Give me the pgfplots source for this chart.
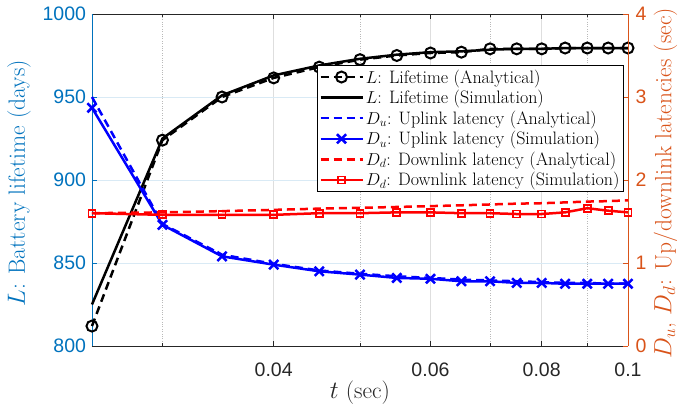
\documentclass[border=0pt]{standalone}
\usepackage{fontspec}
\usepackage{pgfplots}
\usepackage{pgfplotstable}
\pgfplotsset{compat=1.18}
\newfontfamily\tickfont{Liberation Sans}
\definecolor{mblue}{rgb}{0,0.447,0.741}
\definecolor{morange}{rgb}{0.85,0.325,0.098}
\definecolor{axgray}{rgb}{0.15,0.15,0.15}
\definecolor{gridgray}{rgb}{0.87,0.87,0.87}
\definecolor{gridblue}{rgb}{0.85,0.917,0.961}
\tikzset{dsh/.style={dash pattern=on 8pt off 5pt}}

\pgfplotstableread{
x      La     Ls     Dua   Dus   Dda    Dds
0.025  812    825    3.00  2.87  1.60   1.60
0.030  924    925    1.47  1.46  1.61   1.58
0.035  950    951    1.10  1.08  1.625  1.58
0.040  961.5  963    0.99  0.98  1.64   1.58
0.045  968    969    0.91  0.90  1.655  1.60
0.050  972.5  973    0.87  0.86  1.665  1.60
0.055  975    975.5  0.84  0.82  1.675  1.61
0.060  976.5  977    0.82  0.81  1.685  1.61
0.065  977    977.5  0.80  0.78  1.695  1.60
0.070  979    978.5  0.79  0.78  1.705  1.60
0.075  979    979    0.78  0.76  1.715  1.59
0.080  979    979    0.77  0.76  1.72   1.59
0.085  979.5  979.5  0.76  0.75  1.73   1.61
0.090  979.5  979.5  0.76  0.75  1.74   1.66
0.095  979.5  979.5  0.75  0.75  1.745  1.63
0.100  979.5  979.5  0.75  0.75  1.755  1.61
}\datatable

\begin{document}
\begin{tikzpicture}
\begin{axis}[
  scale only axis, width=536pt, height=332pt,
  xmode=log, xmin=0.025, xmax=0.1,
  clip=false,
  tick align=inside,
  major tick length=5pt, minor tick length=3pt,
  /pgf/number format/assume math mode=true,
  /pgf/number format/1000 sep={},
  tick label style={font=\tickfont\fontsize{19.5}{22}\selectfont},
  axis x line*=box, axis y line*=left,
  xtick pos=both,
  x axis line style={draw=axgray, line width=0.8pt},
  y axis line style={draw=mblue, line width=0.8pt},
  xtick={0.04,0.06,0.08,0.1}, xticklabels={0.04,0.06,0.08,0.1},
  minor xtick={0.03,0.05,0.07,0.09},
  major x tick style={draw=axgray, line width=0.8pt},
  minor x tick style={draw=axgray, line width=0.6pt},
  xticklabel style={anchor=base, yshift=-31pt, text=axgray},
  ymin=800, ymax=1000, ytick={800,850,900,950,1000},
  major y tick style={draw=mblue, line width=0.8pt},
  yticklabel style={text=mblue, xshift=-2.5pt},
  xmajorgrids, xminorgrids, ymajorgrids,
  major x grid style={solid, draw=gridgray, line width=0.9pt},
  minor x grid style={dotted, draw=gray!55, line width=0.8pt},
  major y grid style={solid, draw=gridblue, line width=0.9pt},
  xlabel={$t$ (sec)},
  every axis x label/.style={at={(axis description cs:0.5,-0.157)}, anchor=base, text=axgray, font=\fontsize{23.5}{26}\selectfont},
  ylabel={$L$: Battery lifetime (days)},
  every axis y label/.style={at={(axis description cs:-0.125,0.49)}, rotate=90, anchor=base, text=mblue, font=\fontsize{23.5}{26}\selectfont},
]
\addplot[black, line width=2.5pt, dsh, mark=o, mark size=5.5pt, mark options={solid, line width=2pt}] table[x=x, y=La] {\datatable};
\addplot[black, line width=2.5pt, solid] table[x=x, y=Ls] {\datatable};
\end{axis}

\begin{axis}[
  scale only axis, width=536pt, height=332pt,
  xmode=log, xmin=0.025, xmax=0.1,
  clip=false,
  tick align=inside,
  major tick length=5pt,
  /pgf/number format/assume math mode=true,
  tick label style={font=\tickfont\fontsize{19.5}{22}\selectfont},
  legend image code/.code={\draw[mark repeat=2,mark phase=2,#1] plot coordinates {(0pt,0pt) (21pt,0pt) (42pt,0pt)};},
  axis x line=none, axis y line*=right,
  y axis line style={draw=morange, line width=0.8pt},
  ymin=0, ymax=4, ytick={0,1,2,3,4},
  major y tick style={draw=morange, line width=0.8pt},
  yticklabel style={text=morange, xshift=4pt},
  ylabel={$D_u$, $D_d$: Up/downlink latencies (sec)},
  every axis y label/.style={at={(axis description cs:1.081,0.49)}, rotate=90, anchor=base, text=morange, font=\fontsize{23.5}{26}\selectfont},
  legend style={at={(rel axis cs:0.9925,0.846)}, anchor=north east,
    draw=black, fill=white, line width=0.8pt,
    font=\fontsize{18}{20}\selectfont,
    nodes={inner xsep=2pt, inner ysep=1pt},
    row sep=3.6pt, inner xsep=2pt, inner ysep=3pt},
  legend cell align=left,
]
\addlegendimage{black, line width=2.5pt, dsh, mark=o, mark size=5.5pt, mark options={solid, line width=2pt}}
\addlegendentry{$L$: Lifetime (Analytical)}
\addlegendimage{black, line width=2.5pt, solid}
\addlegendentry{$L$: Lifetime (Simulation)}
\addplot[blue, line width=2.5pt, dsh] table[x=x, y=Dua] {\datatable};
\addlegendentry{$D_u$: Uplink latency (Analytical)}
\addplot[blue, line width=2.5pt, solid, mark=x, mark size=6.5pt, mark options={solid, line width=2.5pt}] table[x=x, y=Dus] {\datatable};
\addlegendentry{$D_u$: Uplink latency (Simulation)}
\addplot[red, line width=2.5pt, dsh] table[x=x, y=Dda] {\datatable};
\addlegendentry{$D_d$: Downlink latency (Analytical)}
\addplot[red, line width=2.5pt, solid, mark=square, mark size=3.5pt, mark options={solid, line width=1.8pt}] table[x=x, y=Dds] {\datatable};
\addlegendentry{$D_d$: Downlink latency (Simulation)}
\coordinate (BL) at (rel axis cs:0,0);
\coordinate (TR) at (rel axis cs:1,1);
\end{axis}
\pgfresetboundingbox
\path ([xshift=-92pt,yshift=-72pt]BL) rectangle ([xshift=50pt,yshift=14pt]TR);
\end{tikzpicture}
\end{document}
